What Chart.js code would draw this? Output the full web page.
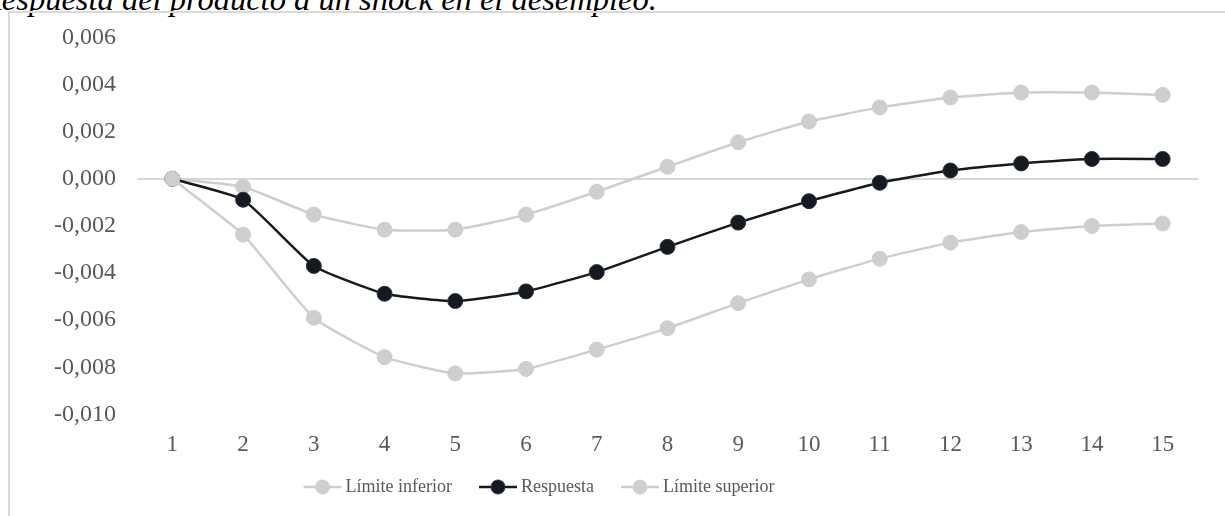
<!DOCTYPE html>
<html>
<head>
<meta charset="utf-8">
<script src="https://cdn.jsdelivr.net/npm/chart.js@4/dist/chart.umd.min.js"></script>
<style>
  body { margin: 0; width: 1225px; height: 516px; overflow: hidden; background: #fff; position: relative; }
  #title { position: absolute; left: -18px; top: -17px; font-family: "Liberation Serif", serif; font-style: italic; font-size: 32.5px; line-height: 32px; color: #000; white-space: nowrap; }
  #box { position: absolute; left: 8px; top: 11px; width: 1230px; height: 520px; border-left: 2px solid #d9d9d9; border-top: 2px solid #d9d9d9; }
  #wrap { position: absolute; left: 10px; top: 2px; width: 1215px; height: 528px; }
</style>
</head>
<body>
<div id="title">Respuesta del producto a un shock en el desempleo.</div>
<div id="box"></div>
<div id="wrap"><canvas id="chart"></canvas></div>
<script>
// periodos
var periods = ["1","2","3","4","5","6","7","8","9","10","11","12","13","14","15"];

// series
var limiteInferior = [0, -0.00237, -0.0059, -0.00757, -0.00826, -0.00807, -0.00725, -0.00634, -0.00528, -0.00427, -0.00339, -0.00271, -0.00226, -0.00200, -0.00190];
var respuesta = [0, -0.00089, -0.00370, -0.00488, -0.00519, -0.00478, -0.00396, -0.00289, -0.00186, -0.00095, -0.00017, 0.00035, 0.00065, 0.00084, 0.00084];
var limiteSuperior = [0, -0.00034, -0.00152, -0.00216, -0.00216, -0.00152, -0.00055, 0.00051, 0.00155, 0.00243, 0.00303, 0.00345, 0.00366, 0.00366, 0.00356];

// eje y
var yMin = -0.010;
var yMax = 0.006;
var yStep = 0.002;

var gray = "#cfcdcd";
var dark = "#16191d";
var darkBorder = "#24324a";
var serif = "'Liberation Serif', 'Times New Roman', serif";

// marcador de leyenda: linea con circulo
function legendMarker(lineColor, fill, stroke) {
  var c = document.createElement("canvas");
  c.width = 56;
  c.height = 18;
  var ctx = c.getContext("2d");
  ctx.strokeStyle = lineColor;
  ctx.lineWidth = 2.5;
  ctx.beginPath();
  ctx.moveTo(17, 9);
  ctx.lineTo(55, 9);
  ctx.stroke();
  ctx.fillStyle = fill;
  ctx.strokeStyle = stroke;
  ctx.lineWidth = 1;
  ctx.beginPath();
  ctx.arc(36, 9, 7, 0, Math.PI * 2);
  ctx.fill();
  ctx.stroke();
  return c;
}

var markers = [legendMarker(gray, gray, gray), legendMarker(dark, dark, darkBorder), legendMarker(gray, gray, gray)];

// la leyenda del original no esta centrada
var legendShift = {
  id: "legendShift",
  afterLayout: function(chart) {
    var dx = -82, dy = -14;
    chart.legend.left += dx;
    chart.legend.right += dx;
    chart.legend.top += dy;
    chart.legend.bottom += dy;
  }
};

function serie(label, values, line, fill, border) {
  return {
    label: label,
    data: values,
    borderColor: line,
    backgroundColor: fill,
    pointBorderColor: border,
    pointBackgroundColor: fill,
    borderWidth: 2.5,
    pointRadius: 7.5,
    pointBorderWidth: 1,
    tension: 0.15,
    fill: false
  };
}

new Chart(document.getElementById("chart"), {
  type: "line",
  data: {
    labels: periods,
    datasets: [
      serie("Límite inferior", limiteInferior, gray, gray, gray),
      serie("Respuesta", respuesta, dark, dark, darkBorder),
      serie("Límite superior", limiteSuperior, gray, gray, gray)
    ]
  },
  plugins: [legendShift],
  options: {
    responsive: true,
    maintainAspectRatio: false,
    animation: false,
    layout: { padding: { left: 23, right: 27, top: 2, bottom: 10 } },
    plugins: {
      tooltip: { enabled: false },
      legend: {
        position: "bottom",
        labels: {
          usePointStyle: true,
          pointStyleWidth: 44,
          padding: 16,
          color: "#595959",
          font: { family: serif, size: 18 },
          generateLabels: function(chart) {
            var items = Chart.defaults.plugins.legend.labels.generateLabels(chart);
            items.forEach(function(it, i) { it.pointStyle = markers[i]; });
            return items;
          }
        }
      }
    },
    scales: {
      x: {
        offset: true,
        grid: { display: false, drawTicks: false },
        border: { display: false },
        ticks: {
          color: "#595959",
          padding: 17,
          font: { family: serif, size: 23 }
        }
      },
      y: {
        min: yMin,
        max: yMax,
        border: { display: false },
        grid: {
          drawTicks: false,
          lineWidth: 2,
          color: function(ctx) {
            return ctx.tick && Math.abs(ctx.tick.value) < 1e-9 ? "#d9d9d9" : "rgba(0,0,0,0)";
          }
        },
        ticks: {
          stepSize: yStep,
          color: "#595959",
          padding: 21,
          font: { family: serif, size: 24 },
          callback: function(v) {
            return Math.abs(v) < 1e-9 ? "0,000" : v.toFixed(3).replace(".", ",");
          }
        }
      }
    }
  }
});
</script>
</body>
</html>
